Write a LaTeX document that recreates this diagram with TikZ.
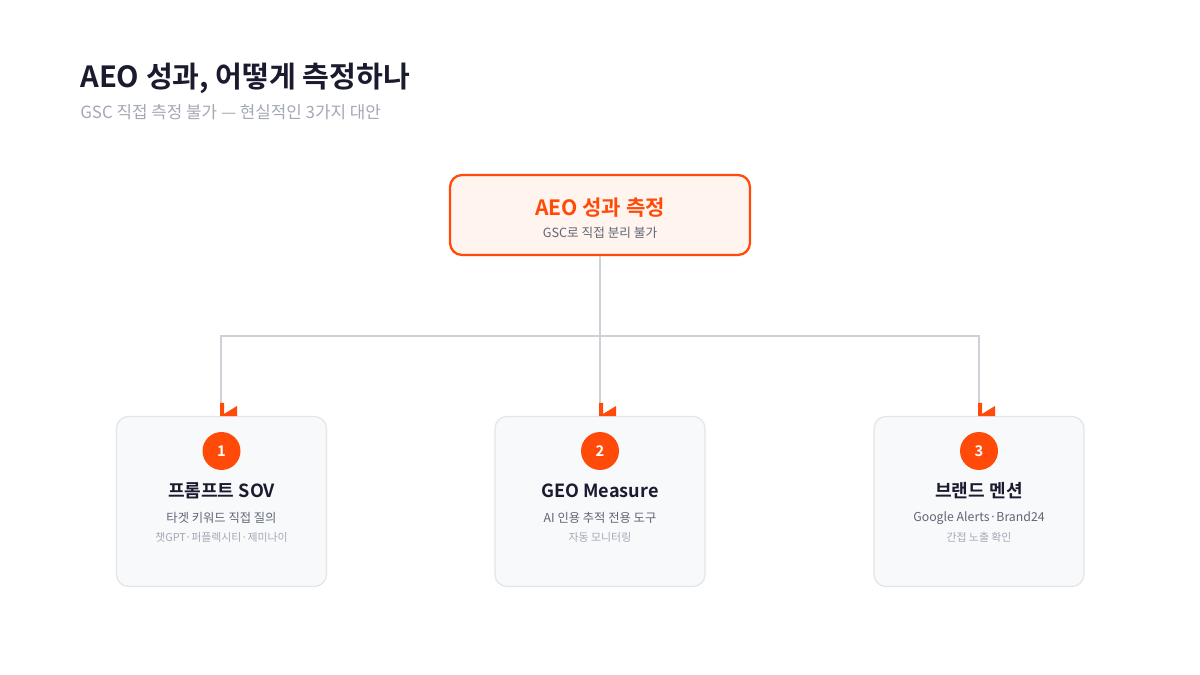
\documentclass[tikz,border=0pt]{standalone}
\usepackage{fontspec}
\setmainfont{Noto Sans CJK KR}[BoldFont={Noto Sans CJK KR Bold}]
\usepackage{xcolor}
\usetikzlibrary{positioning}

\definecolor{accent}{HTML}{FF4A0A}
\definecolor{accentbg}{HTML}{FFF4EE}
\definecolor{ink}{HTML}{1B1B2F}
\definecolor{midgray}{HTML}{5F6673}
\definecolor{lightgray}{HTML}{A3A9B4}
\definecolor{linkgray}{HTML}{CDD1D8}
\definecolor{cardline}{HTML}{E3E5E9}
\definecolor{cardbg}{HTML}{F8F9FB}

\tikzset{
  rootbox/.style={draw=accent, line width=1.3pt, fill=accentbg, rounded corners=0.24cm,
    minimum width=6cm, minimum height=1.6cm},
  cardbox/.style={draw=cardline, line width=0.7pt, fill=cardbg, rounded corners=0.24cm,
    minimum width=4.2cm, minimum height=3.4cm},
  badge/.style={circle, fill=accent, minimum size=0.76cm, inner sep=0pt,
    text=white, font=\bfseries\fontsize{8.4}{9}\selectfont},
  cardtitle/.style={text=ink, font=\bfseries\fontsize{10.3}{12}\selectfont},
  cardsub/.style={text=midgray, font=\fontsize{7}{8}\selectfont},
  cardnote/.style={text=lightgray, font=\fontsize{6.2}{7}\selectfont},
  link/.style={draw=linkgray, line width=1.1pt},
  flag/.pic={\fill[accent] (-1,-13) -- (3,-13) -- (3,-2) -- (16,-10) -- (16,0) -- (-1,0) -- cycle;}
}

\begin{document}
\begin{tikzpicture}[x=0.02cm,y=-0.02cm]
\useasboundingbox[fill=white] (0,0) rectangle (1200,675);

% heading
\node[anchor=west, inner sep=0pt, text=ink, font=\bfseries\fontsize{16.6}{19}\selectfont] (head) at (80,78) {AEO 성과, 어떻게 측정하나};
\node[anchor=west, inner sep=0pt, text=lightgray, font=\fontsize{9.6}{11}\selectfont] (subhead) at (80,112) {GSC 직접 측정 불가 — 현실적인 3가지 대안};

% root
\node[rootbox] (root) at (600,215) {};
\node[text=accent, font=\bfseries\fontsize{12}{14}\selectfont] (roottitle) at (600,208) {AEO 성과 측정};
\node[text=midgray, font=\fontsize{7.2}{8}\selectfont] (rootsub) at (600,233) {GSC로 직접 분리 불가};

% cards
\node[cardbox] (card1) at (221.5,501.5) {};
\node[cardbox] (card2) at (600,501.5) {};
\node[cardbox] (card3) at (979,501.5) {};

\node[badge] (num1) at (221.5,451) {1};
\node[badge] (num2) at (600,451) {2};
\node[badge] (num3) at (979,451) {3};

\node[cardtitle] (title1) at (221.5,491) {프롬프트 SOV};
\node[cardtitle] (title2) at (600,491) {GEO Measure};
\node[cardtitle] (title3) at (979,491) {브랜드 멘션};

\node[cardsub] (sub1) at (221.5,518) {타겟 키워드 직접 질의};
\node[cardsub] (sub2) at (600,518) {AI 인용 추적 전용 도구};
\node[cardsub] (sub3) at (979,518) {Google Alerts·Brand24};

\node[cardnote] (note1) at (221.5,537) {챗GPT·퍼플렉시티·제미나이};
\node[cardnote] (note2) at (600,537) {자동 모니터링};
\node[cardnote] (note3) at (979,537) {간접 노출 확인};

% connectors
\coordinate (split) at (600,336);
\coordinate (end1) at (221,416);
\coordinate (end2) at (600,416);
\coordinate (end3) at (979,416);
\draw[link] (root.south) -- (end2);
\draw[link] (split) -| (end1);
\draw[link] (split) -| (end3);
\pic at (end1) {flag};
\pic at (end2) {flag};
\pic at (end3) {flag};
\end{tikzpicture}
\end{document}
